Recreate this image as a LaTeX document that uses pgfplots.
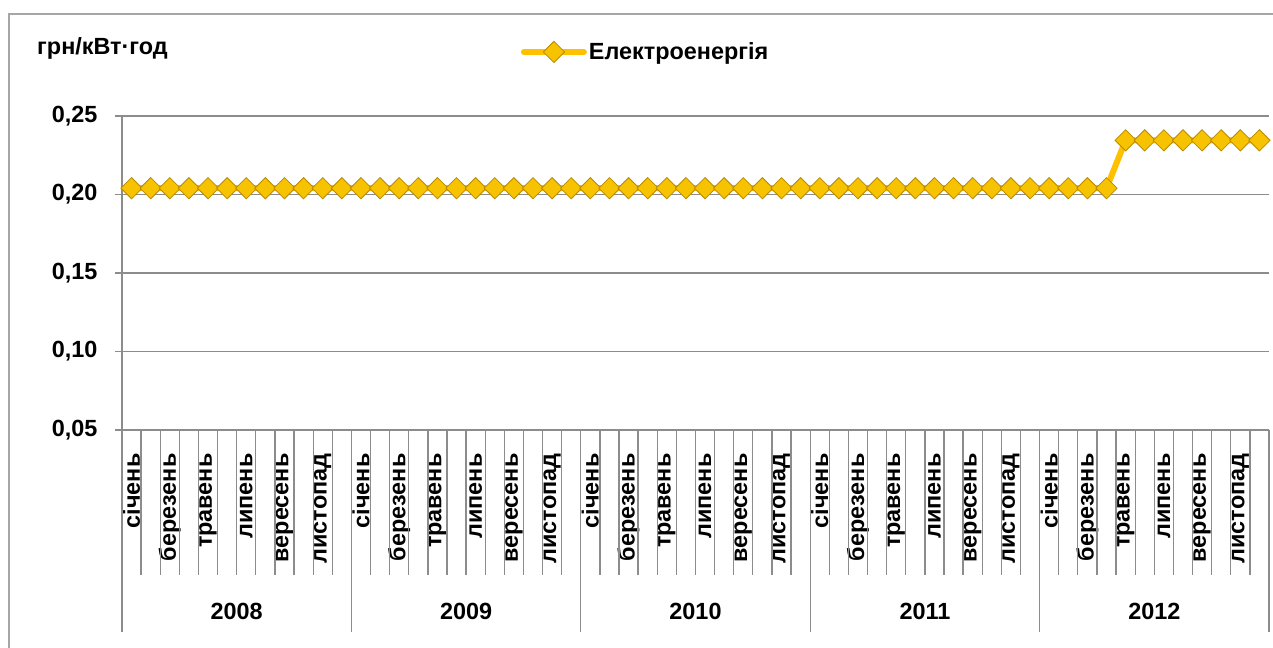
\documentclass[border=0pt]{standalone}
\usepackage{fontspec}
\setmainfont{Liberation Sans}
\usepackage{pgfplots}
\pgfplotsset{compat=1.18}
\definecolor{gold}{HTML}{FFC000}
\definecolor{golddark}{HTML}{B88A00}
\definecolor{goldfill}{HTML}{F7C300}
\definecolor{gridgray}{HTML}{8C8C8C}
\definecolor{framegray}{HTML}{A6A6A6}
\newcommand{\lbl}{\fontsize{23.5}{27}\selectfont\bfseries}
\pgfplotstableread{
x y
0 0.204
1 0.204
2 0.204
3 0.204
4 0.204
5 0.204
6 0.204
7 0.204
8 0.204
9 0.204
10 0.204
11 0.204
12 0.204
13 0.204
14 0.204
15 0.204
16 0.204
17 0.204
18 0.204
19 0.204
20 0.204
21 0.204
22 0.204
23 0.204
24 0.204
25 0.204
26 0.204
27 0.204
28 0.204
29 0.204
30 0.204
31 0.204
32 0.204
33 0.204
34 0.204
35 0.204
36 0.204
37 0.204
38 0.204
39 0.204
40 0.204
41 0.204
42 0.204
43 0.204
44 0.204
45 0.204
46 0.204
47 0.204
48 0.204
49 0.204
50 0.204
51 0.204
52 0.2345
53 0.2345
54 0.2345
55 0.2345
56 0.2345
57 0.2345
58 0.2345
59 0.2345
}\datatable
\begin{document}
\begin{tikzpicture}[x=1bp,y=1bp]
\path[use as bounding box] (-122,-218) rectangle (1151,430);
\draw[framegray, line width=1.5bp] (-113,-240) -- (-113,416) -- (1170,416);
\node[font=\lbl, anchor=west, inner sep=0pt] at (-85,382) {грн/кВт·год};
\begin{axis}[
  at={(0,0)}, anchor=south west,
  scale only axis, width=1147bp, height=314bp,
  xmin=-0.5, xmax=59.5, ymin=0.05, ymax=0.25,
  axis x line=bottom, axis y line=left,
  axis line style={gridgray, line width=1.3bp, -},
  ytick={0.05,0.1,0.15,0.2,0.25},
  ymajorgrids, grid style={gridgray, line width=1.5bp},
  tick align=outside,
  major tick length=7bp,
  tick style={gridgray, line width=1.3bp},
  yticklabel style={font=\lbl},
  yticklabel shift=14bp,
  /pgf/number format/.cd, fixed, fixed zerofill, precision=2, use comma, assume math mode=true,
  /pgfplots/.cd,
  xtick={0,2,...,58},
  xtick style={draw=none},
  xticklabels={січень,березень,травень,липень,вересень,листопад,
               січень,березень,травень,липень,вересень,листопад,
               січень,березень,травень,липень,вересень,листопад,
               січень,березень,травень,липень,вересень,листопад,
               січень,березень,травень,липень,вересень,листопад},
  xticklabel style={font=\lbl, rotate=90, anchor=east},
  xticklabel shift=13bp,
  legend style={draw=none, fill=none, font=\lbl, at={(axis description cs:0.345,1.204)}, anchor=west},
  legend image code/.code={\draw[mark repeat=2,mark phase=2,#1] plot coordinates {(0bp,0bp)(30bp,0bp)(60bp,0bp)};},
  clip=false,
]
\pgfplotsinvokeforeach{0,...,60}{
  \draw[gridgray, line width=1.3bp] (axis cs:#1-0.5,0.05) -- ([yshift=-145bp]axis cs:#1-0.5,0.05);
}
\pgfplotsinvokeforeach{0,12,24,36,48,60}{
  \draw[gridgray, line width=1.3bp] (axis cs:#1-0.5,0.05) -- ([yshift=-202bp]axis cs:#1-0.5,0.05);
}
\addplot[gold, line width=6bp, line cap=round, mark=square*, mark size=7.5bp,
  mark options={rotate=45, fill=goldfill, draw=golddark, line width=0.8bp}] table[x=x,y=y] {\datatable};
\addlegendentry{Електроенергія}
\node[font=\lbl] at (axis cs:5.5,0.05) [yshift=-181bp] {2008};
\node[font=\lbl] at (axis cs:17.5,0.05) [yshift=-181bp] {2009};
\node[font=\lbl] at (axis cs:29.5,0.05) [yshift=-181bp] {2010};
\node[font=\lbl] at (axis cs:41.5,0.05) [yshift=-181bp] {2011};
\node[font=\lbl] at (axis cs:53.5,0.05) [yshift=-181bp] {2012};
\end{axis}
\end{tikzpicture}
\end{document}
